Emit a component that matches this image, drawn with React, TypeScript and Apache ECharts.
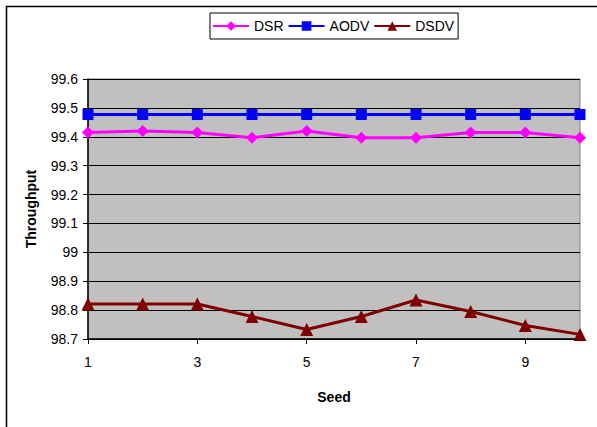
import React, { useEffect, useRef } from "react";
import * as echarts from "echarts";

const seeds = ["1", "2", "3", "4", "5", "6", "7", "8", "9", "10"];
const dsr = [99.415, 99.42, 99.415, 99.397, 99.42, 99.397, 99.397, 99.415, 99.415, 99.397];
const aodv = [99.477, 99.477, 99.477, 99.477, 99.477, 99.477, 99.477, 99.477, 99.477, 99.477];
const dsdv = [98.821, 98.821, 98.821, 98.778, 98.733, 98.778, 98.835, 98.795, 98.747, 98.716];

const FONT = "Arial, 'Liberation Sans', sans-serif";

export default function App() {
  const ref = useRef<HTMLDivElement>(null);
  useEffect(() => {
    if (!ref.current) return;
    const chart = echarts.init(ref.current, null, { renderer: "svg" });
    chart.setOption({
      animation: false,
      backgroundColor: "#ffffff",
      textStyle: { fontFamily: FONT },
      graphic: [
        {
          type: "rect",
          shape: { x: 6.5, y: 6.5, width: 640, height: 460 },
          style: { fill: "none", stroke: "#000", lineWidth: 1.5 },
          silent: true,
          z: -1,
        },
      ],
      legend: {
        left: 210,
        top: 13,
        padding: [6, 4, 6, 2],
        itemGap: 4,
        itemWidth: 36,
        itemHeight: 12,
        borderColor: "#000",
        borderWidth: 1,
        textStyle: { fontSize: 14, color: "#000", fontFamily: FONT },
        data: ["DSR", "AODV", "DSDV"],
      },
      grid: {
        left: 88,
        top: 79,
        width: 492,
        height: 260,
        show: true,
        backgroundColor: "#c0c0c0",
        borderColor: "#808080",
        borderWidth: 1,
      },
      xAxis: {
        type: "category",
        data: seeds,
        boundaryGap: false,
        name: "Seed",
        nameLocation: "middle",
        nameGap: 51,
        nameTextStyle: { fontSize: 14, fontWeight: "bold", color: "#000", fontFamily: FONT },
        axisLine: { lineStyle: { color: "#000", width: 1.5 } },
        axisTick: { show: true, interval: 1, length: 5, lineStyle: { color: "#000" } },
        axisLabel: { interval: 1, fontSize: 14, color: "#000", margin: 16, fontFamily: FONT },
        splitLine: { show: false },
      },
      yAxis: {
        type: "value",
        min: 98.7,
        max: 99.6,
        interval: 0.1,
        name: "Throughput",
        nameLocation: "middle",
        nameGap: 50,
        nameRotate: 90,
        nameTextStyle: { fontSize: 14, fontWeight: "bold", color: "#000", fontFamily: FONT },
        axisLine: { show: true, lineStyle: { color: "#000", width: 1.5 } },
        axisTick: { show: true, length: 5, lineStyle: { color: "#000" } },
        axisLabel: { fontSize: 14, color: "#000", margin: 10, fontFamily: FONT },
        splitLine: { show: true, lineStyle: { color: "#000", width: 1 } },
      },
      series: [
        {
          name: "DSR",
          type: "line",
          data: dsr,
          color: "#ff00ff",
          symbol: "diamond",
          symbolSize: 12,
          lineStyle: { width: 3 },
          z: 3,
        },
        {
          name: "AODV",
          type: "line",
          data: aodv,
          color: "#0000ff",
          symbol: "rect",
          symbolSize: 11,
          lineStyle: { width: 3 },
          z: 4,
        },
        {
          name: "DSDV",
          type: "line",
          data: dsdv,
          color: "#800000",
          symbol: "triangle",
          symbolSize: 13,
          lineStyle: { width: 3 },
          z: 2,
        },
      ],
    });
    return () => chart.dispose();
  }, []);
  return (
    <div
      ref={ref}
      style={{ position: "absolute", left: 0, top: 0, width: 597, height: 427 }}
    />
  );
}
